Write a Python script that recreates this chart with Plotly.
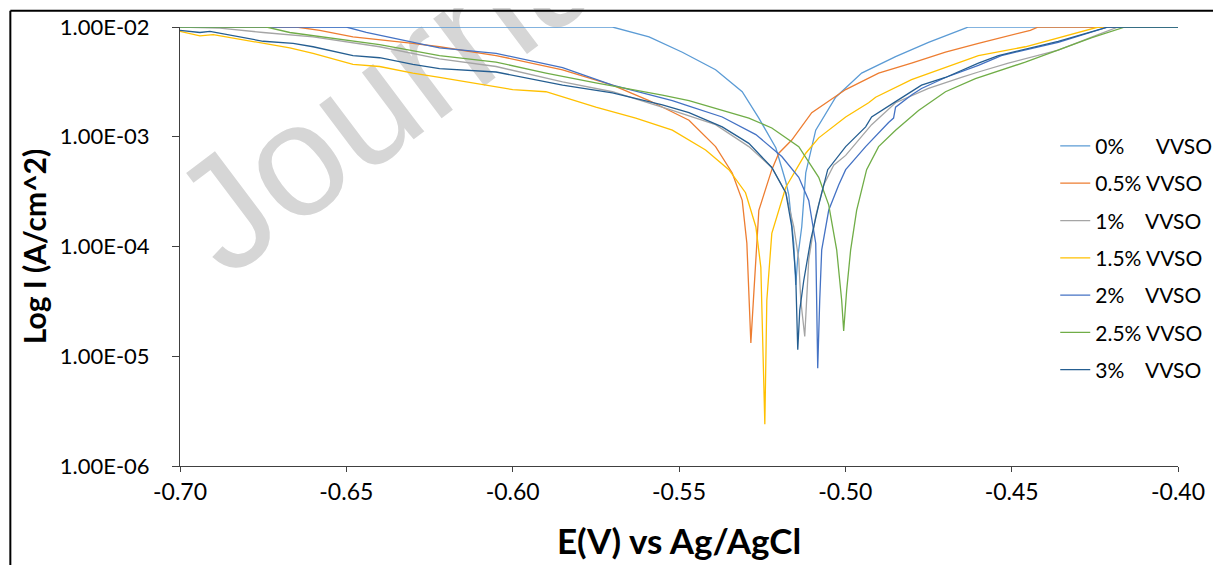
import numpy as np
import plotly.graph_objects as go

# ---- data (E in V vs Ag/AgCl, log10 of current density in A/cm^2) ----
e_0 = [-0.700, -0.570, -0.559, -0.549, -0.539, -0.531, -0.526, -0.5209, -0.5179, -0.517, -0.5155, -0.5149,
       -0.5143, -0.5131, -0.5119, -0.5089, -0.5029, -0.4951, -0.4849, -0.475, -0.4639, -0.463, -0.400]
logi_0 = [-2.00, -2.00, -2.09, -2.23, -2.39, -2.59, -2.83, -3.10, -3.41, -3.53, -3.97, -4.35,
          -4.10, -3.82, -3.33, -2.94, -2.64, -2.42, -2.27, -2.14, -2.01, -2.00, -2.00]

e_05 = [-0.700, -0.665, -0.658, -0.648, -0.630, -0.622, -0.605, -0.585, -0.570, -0.559, -0.547, -0.539, -0.534,
        -0.531, -0.5296, -0.529, -0.5284, -0.5275, -0.526, -0.5221, -0.520, -0.5161, -0.5101, -0.4999, -0.490,
        -0.4801, -0.4699, -0.460, -0.4561, -0.4444, -0.442, -0.400]
logi_05 = [-2.00, -2.00, -2.03, -2.09, -2.15, -2.18, -2.26, -2.39, -2.53, -2.67, -2.85, -3.09, -3.33,
           -3.58, -3.97, -4.42, -4.88, -4.42, -3.67, -3.30, -3.15, -3.03, -2.78, -2.57, -2.42,
           -2.33, -2.23, -2.15, -2.12, -2.03, -2.00, -2.00]

e_1 = [-0.700, -0.688, -0.675, -0.660, -0.640, -0.622, -0.605, -0.585, -0.570, -0.552, -0.539, -0.529, -0.5221,
       -0.5179, -0.5155, -0.514, -0.5134, -0.5122, -0.511, -0.5089, -0.5065, -0.5035, -0.4999, -0.4921, -0.4849,
       -0.475, -0.4651, -0.460, -0.451, -0.436, -0.424, -0.418, -0.400]
logi_1 = [-2.00, -2.01, -2.05, -2.09, -2.18, -2.29, -2.36, -2.50, -2.59, -2.76, -2.89, -3.09, -3.28,
          -3.51, -3.82, -4.12, -4.49, -4.82, -4.12, -3.72, -3.44, -3.26, -3.17, -2.89, -2.69,
          -2.56, -2.46, -2.41, -2.33, -2.21, -2.07, -2.00, -2.00]

e_15 = [-0.700, -0.694, -0.690, -0.676, -0.667, -0.660, -0.648, -0.640, -0.630, -0.622, -0.600, -0.590, -0.575,
        -0.563, -0.552, -0.542, -0.535, -0.530, -0.5269, -0.5254, -0.5251, -0.5242,
        -0.5236, -0.5221, -0.5179, -0.5149, -0.5119, -0.508, -0.4999, -0.493, -0.4909, -0.4801, -0.4699,
        -0.460, -0.4459, -0.433, -0.424, -0.400]
logi_15 = [-2.04, -2.08, -2.07, -2.14, -2.19, -2.24, -2.34, -2.36, -2.42, -2.46, -2.57, -2.59, -2.73,
           -2.83, -2.94, -3.12, -3.30, -3.51, -3.82, -4.19, -4.49, -5.62,
           -4.49, -3.88, -3.46, -3.30, -3.15, -3.01, -2.82, -2.69, -2.64, -2.48, -2.37,
           -2.26, -2.18, -2.07, -2.00, -2.00]

e_2 = [-0.700, -0.650, -0.644, -0.626, -0.622, -0.605, -0.585, -0.570, -0.552, -0.547, -0.537, -0.5269,
       -0.5191, -0.514, -0.511, -0.5089, -0.5086, -0.5083,
       -0.5077, -0.5071, -0.505, -0.502, -0.4999, -0.4939, -0.487, -0.4855, -0.4849, -0.4801, -0.4771,
       -0.4699, -0.460, -0.4531, -0.436, -0.421, -0.400]
logi_2 = [-2.00, -2.00, -2.05, -2.16, -2.19, -2.24, -2.37, -2.53, -2.67, -2.72, -2.82, -2.98,
          -3.18, -3.37, -3.58, -3.97, -4.42, -5.11,
          -4.49, -4.03, -3.67, -3.44, -3.30, -3.09, -2.87, -2.83, -2.73, -2.62, -2.56,
          -2.46, -2.35, -2.26, -2.14, -2.00, -2.00]

e_25 = [-0.700, -0.674, -0.667, -0.655, -0.640, -0.622, -0.605, -0.590, -0.575, -0.555, -0.547, -0.529,
        -0.5221, -0.514, -0.5101, -0.508, -0.505, -0.5026, -0.5011, -0.5005,
        -0.4996, -0.4984, -0.4966, -0.4936, -0.490, -0.4849, -0.478, -0.4699, -0.4609, -0.4459,
        -0.4261, -0.4159, -0.400]
logi_25 = [-2.00, -2.00, -2.05, -2.10, -2.16, -2.26, -2.32, -2.42, -2.51, -2.62, -2.67, -2.83,
           -2.92, -3.09, -3.28, -3.37, -3.62, -4.03, -4.49, -4.77,
           -4.40, -4.03, -3.67, -3.30, -3.09, -2.94, -2.76, -2.59, -2.47, -2.32,
           -2.10, -2.00, -2.00]

e_3 = [-0.700, -0.694, -0.691, -0.675, -0.666, -0.660, -0.648, -0.640, -0.630, -0.622, -0.605, -0.585,
       -0.570, -0.555, -0.547, -0.537, -0.529, -0.5221, -0.5179, -0.5161, -0.5149, -0.5143,
       -0.5137, -0.5125, -0.5104, -0.508, -0.5053, -0.4999, -0.4939, -0.4921, -0.4849, -0.4771,
       -0.4699, -0.460, -0.454, -0.436, -0.421, -0.400]
logi_3 = [-2.03, -2.05, -2.04, -2.13, -2.15, -2.18, -2.26, -2.28, -2.34, -2.38, -2.41, -2.53,
          -2.60, -2.71, -2.78, -2.91, -3.06, -3.28, -3.51, -3.82, -4.28, -4.94,
          -4.58, -4.31, -3.94, -3.62, -3.30, -3.09, -2.91, -2.82, -2.68, -2.53,
          -2.46, -2.33, -2.26, -2.13, -2.00, -2.00]

series_names = ["0%\u00a0\u00a0\u00a0\u00a0\u00a0\u00a0VVSO", "0.5% VVSO", "1%\u00a0\u00a0\u00a0\u00a0VVSO",
                "1.5% VVSO", "2%\u00a0\u00a0\u00a0\u00a0VVSO", "2.5% VVSO", "3%\u00a0\u00a0\u00a0\u00a0VVSO"]
series_e = [e_0, e_05, e_1, e_15, e_2, e_25, e_3]
series_logi = [logi_0, logi_05, logi_1, logi_15, logi_2, logi_25, logi_3]
colors = ["#5B9BD5", "#ED7D31", "#A5A5A5", "#FFC000", "#4472C4", "#70AD47", "#255E91"]

y_tickvals = [1e-6, 1e-5, 1e-4, 1e-3, 1e-2]
y_ticktext = ["1.00E-06", "1.00E-05", "1.00E-04", "1.00E-03", "1.00E-02"]
x_tickvals = [-0.70, -0.65, -0.60, -0.55, -0.50, -0.45, -0.40]
x_ticktext = ["-0.70", "-0.65", "-0.60", "-0.55", "-0.50", "-0.45", "-0.40"]

FONT = "Lato"

fig = go.Figure()
for i, (name, e, lg, c) in enumerate(zip(series_names, series_e, series_logi, colors)):
    fig.add_trace(go.Scatter(
        x=e, y=10 ** np.array(lg), mode="lines", name=name,
        line=dict(color=c, width=1.3), legendgroup=f"g{i}",
    ))

fig.update_layout(
    width=1221, height=565,
    margin=dict(l=172, r=49, t=19, b=107),
    paper_bgcolor="white", plot_bgcolor="rgba(0,0,0,0)",
    font=dict(family=FONT, color="#000000"),
    showlegend=True,
    legend=dict(
        x=0.877, y=0.775, xanchor="left", yanchor="top",
        font=dict(family=FONT, size=21, color="#000000"),
        tracegroupgap=7, bgcolor="rgba(0,0,0,0)",
    ),
    xaxis=dict(
        range=[-0.70, -0.40], tickmode="array", tickvals=x_tickvals, ticktext=x_ticktext,
        showgrid=False, zeroline=False, showline=True, linecolor="#404040", linewidth=1,
        ticks="outside", ticklen=5, tickcolor="#404040", automargin=False,
        tickfont=dict(family=FONT, size=23, color="#000000"),
        title=dict(text="<b>E(V) vs Ag/AgCl</b>", font=dict(family=FONT, size=35, color="#000000"), standoff=25),
    ),
    yaxis=dict(
        type="log", range=[-6, -2], tickmode="array", tickvals=y_tickvals, ticktext=y_ticktext,
        showgrid=False, zeroline=False, showline=True, linecolor="#404040", linewidth=1,
        ticks="outside", ticklen=7, tickcolor="#404040", automargin=False, ticklabelstandoff=18,
        tickfont=dict(family=FONT, size=22, color="#000000"),
        title=dict(text="<b>Log I (A/cm^2)</b>", font=dict(family=FONT, size=30, color="#000000"), standoff=4),
    ),
)

# page frame lines seen at the top and left of the reference
fig.add_shape(type="line", xref="paper", yref="paper", x0=-0.170, x1=1.06, y0=1.037, y1=1.037,
              line=dict(color="black", width=2))
fig.add_shape(type="line", xref="paper", yref="paper", x0=-0.170, x1=-0.170, y0=1.037, y1=-0.3,
              line=dict(color="black", width=2))

# watermark (drawn beneath the curves)
fig.add_shape(type="rect", xref="paper", yref="paper", x0=0.498, x1=0.500, y0=1.398, y1=1.400,
              layer="below", line=dict(width=0), fillcolor="rgba(0,0,0,0)",
              label=dict(text="Journal Pre-proof", textangle=-37, textposition="middle center",
                         font=dict(family="Liberation Sans", size=160, color="#D6D6D6")))

fig.write_html("out.html")
